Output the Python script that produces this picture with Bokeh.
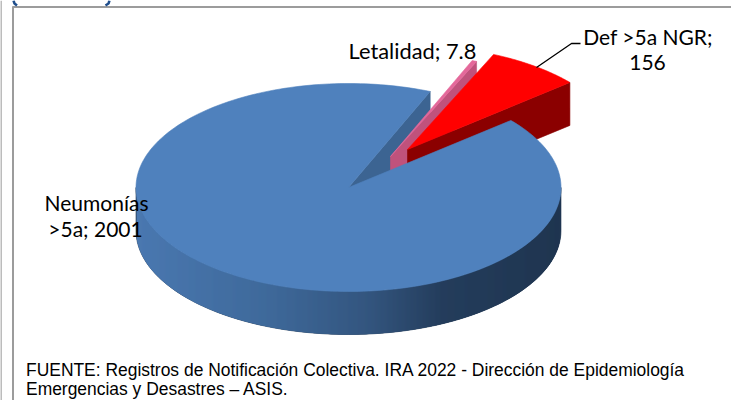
import math
from bokeh.plotting import figure
from bokeh.models import Range1d
from bokeh.core.properties import value
from bokeh.embed import file_html
from bokeh.resources import INLINE

categories = ["Neumonías >5a", "Def >5a NGR", "Letalidad"]
values = [2001, 156, 7.8]
top_colors = ["#4f81bd", "#ff0000", "#e4689a"]
wall_colors = ["#3c6492", "#8b0000", "#c0527c"]
offsets = [(0, 0), (59, -38), (42, -31)]
footer = ["FUENTE:   Registros de Notificación Colectiva. IRA  2022 - Dirección de Epidemiología",
          "Emergencias y Desastres – ASIS."]

CX, CY, RX, RY, DEPTH = 348, 187, 212.5, 104, 43
START = 67.4

p = figure(width=731, height=400, x_range=Range1d(0, 731), y_range=Range1d(400, 0),
           output_backend="svg", toolbar_location=None, min_border=0,
           outline_line_color=None, margin=(0, 0, 0, 0))
p.axis.visible = False
p.grid.visible = False

def pt(a, off=(0, 0), d=0):
    r = math.radians(a)
    return (CX + off[0] + RX * math.cos(r), CY + off[1] - RY * math.sin(r) + d)

def poly(pts, fill, line=None):
    p.patch([q[0] for q in pts], [q[1] for q in pts], fill_color=fill,
            line_color=line or fill, line_width=0.6)

# angular extents from the values
total = sum(values)
spans = []
a = START
for v in values:
    b = a + 360 * v / total
    spans.append((a, b))
    a = b
(a0, a1), (a2, a3), (a4, a5) = spans

apex = lambda off, d=0: (CX + off[0], CY + off[1] + d)

def arc(a, b, off=(0, 0), d=0, n=80):
    return [pt(a + (b - a) * i / n, off, d) for i in range(n + 1)]

# frame
p.line([0.5, 0.5], [0, 400], line_color="#a6a6a6", line_width=1.5)
p.line([12.5, 12.5], [6, 400], line_color="#9c9c9c", line_width=2)
p.line([12, 731], [6.5, 6.5], line_color="#9c9c9c", line_width=2)

# remains of the cropped heading above the frame
p.line([13, 14, 16.5], [0, 3, 5], line_color="#1f4e8c", line_width=2.5)
p.line([109, 108, 105], [0, 3, 5], line_color="#1f4e8c", line_width=2.5)

# blue radial wall at its start angle
o = offsets[0]
poly([apex(o), pt(a0, o), pt(a0, o, DEPTH), apex(o, DEPTH)], wall_colors[0])

# pink slice
o = offsets[2]
poly([apex(o), pt(a4, o), pt(a4, o, DEPTH), apex(o, DEPTH)], wall_colors[2])
poly([apex(o)] + arc(a4, a5, o, n=6), top_colors[2])

# red slice
o = offsets[1]
poly([apex(o), pt(a2, o), pt(a2, o, DEPTH), apex(o, DEPTH)], wall_colors[1])
poly([apex(o)] + arc(a2, a3, o), top_colors[1])

# blue outer wall, shaded across its width
stops = [(0.0, (0x4a, 0x78, 0xb0)), (0.3, (0x3f, 0x6a, 0x9b)), (0.55, (0x33, 0x55, 0x7e)),
         (0.72, (0x24, 0x3d, 0x5c)), (1.0, (0x1f, 0x35, 0x50))]

def shade(t):
    for (t0, c0), (t1, c1) in zip(stops, stops[1:]):
        if t <= t1:
            f = (t - t0) / (t1 - t0)
            return "#%02x%02x%02x" % tuple(round(c0[i] + (c1[i] - c0[i]) * f) for i in range(3))
    return "#1f3550"

def yy(x):
    u = max(-1.0, min(1.0, (x - CX) / RX))
    return CY + RY * math.sqrt(1 - u * u)

poly(arc(180, 360) + arc(360, 180, d=DEPTH), "#1f3550")
xl = math.floor(CX - RX)
for k in range(int(2 * RX) + 2):
    x0 = xl + k
    x1 = x0 + 2
    if x0 < CX - RX or x1 > CX + RX:
        continue
    c = shade((x0 - (CX - RX)) / (2 * RX))
    p.patch([x0, x1, x1, x0], [yy(x0), yy(x1), yy(x1) + DEPTH, yy(x0) + DEPTH],
            fill_color=c, line_color=None)

# blue top face
o = offsets[0]
poly([apex(o)] + arc(a0, a1, o, n=240), top_colors[0])

# leader line
p.line([536, 571, 580], [67, 43, 43], line_color="#000000", line_width=1.3)

def txt(x, y, s, font, size, align="left", color="#000000", style="normal"):
    p.text([x], [y], text=[s], text_font=value(font), text_font_size=size, text_align=align,
           text_baseline="alphabetic", text_color=color, text_font_style=style)

LBL = "Lato"
txt(412, 50, "Letalidad; 7.8", LBL, "21.8px", "center")
txt(647.5, 36, "Def >5a NGR;", LBL, "21px", "center")
txt(647, 62, "156", LBL, "21px", "center")
txt(96, 202, "Neumonías", LBL, "21px", "center")
txt(95, 228, ">5a; 2001", LBL, "21px", "center")

txt(25.5, 369, footer[0], "Liberation Sans", "17.45px")
txt(25.5, 388, footer[1], "Liberation Sans", "17.45px")

open("out.html", "w").write(file_html(p, INLINE))
